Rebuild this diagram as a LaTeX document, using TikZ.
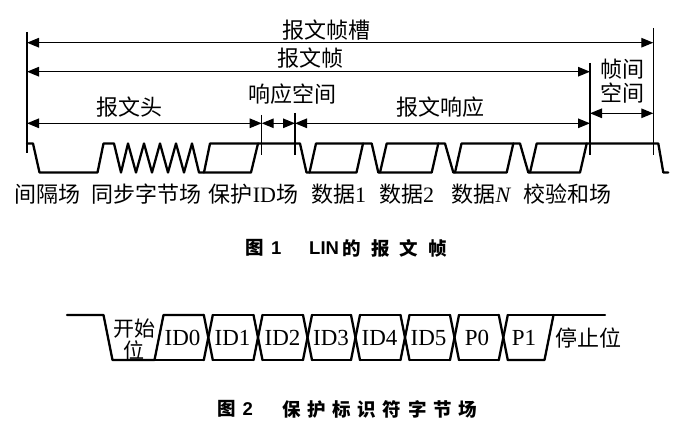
\documentclass[tikz,border=0pt]{standalone}
\usepackage{fontspec}
\setmainfont{Liberation Serif}
\newfontfamily\cjk{Noto Sans CJK SC}
\newfontfamily\capsans{Liberation Sans}
\usetikzlibrary{arrows.meta}
\tikzset{
  lbl/.style={inner sep=0pt, font=\fontsize{22}{24.5}\selectfont\cjk},
  idlbl/.style={inner sep=0pt, font=\fontsize{23}{25}\selectfont\rmfamily},
  caplbl/.style={inner sep=0pt, anchor=west, font=\fontsize{18.5}{20}\selectfont\bfseries\cjk},
  capnum/.style={inner sep=0pt, anchor=west, font=\fontsize{18.5}{20}\selectfont\bfseries\capsans},
  wave/.style={line width=2.3pt, line join=round, line cap=round},
  vline/.style={line width=1.3pt},
  dimarr/.style={line width=1.3pt, {Triangle[length=12pt,width=9.5pt]}-{Triangle[length=12pt,width=9.5pt]}}
}
\begin{document}
\begin{tikzpicture}[x=1pt,y=-1pt]
\fill[white] (0,0) rectangle (685,425);
\useasboundingbox (0,0) rectangle (685,425);

% ---------- Figure 1 : marker lines ----------
\coordinate (m0t) at (27,32);    \coordinate (m0b) at (27,153);
\coordinate (m1t) at (261.7,115); \coordinate (m1b) at (261.7,155);
\coordinate (m2t) at (295,113);  \coordinate (m2b) at (295,155);
\coordinate (m3t) at (590,63);   \coordinate (m3b) at (590,155);
\coordinate (m4t) at (653.3,28); \coordinate (m4b) at (653.3,155);
\foreach \i in {0,...,4} \draw[vline] (m\i t) -- (m\i b);

% arrow end points
\coordinate (sL) at (27,42.7);    \coordinate (sR) at (653.3,42.7);
\coordinate (fL) at (27,71.7);    \coordinate (fR) at (590,71.7);
\coordinate (hL) at (27,123.3);   \coordinate (hR) at (261.7,123.3);
\coordinate (rR) at (295,123.3);  \coordinate (pR) at (590,123.3);
\coordinate (iL) at (590,113.3);  \coordinate (iR) at (653.3,113.3);

\draw[dimarr] (sL) -- (sR);
\draw[dimarr] (fL) -- (fR);
\draw[dimarr] (hL) -- (hR);
\draw[dimarr] (hR) -- (rR);
\draw[dimarr] (rR) -- (pR);
\draw[dimarr] (iL) -- (iR);

% labels above
\node[lbl] (tslot) at (326.5,30.5) {报文帧槽};
\node[lbl] (tframe) at (310,58.5) {报文帧};
\node[lbl] (trs) at (292.5,94.5) {响应空间};
\node[lbl] (thdr) at (129.5,107.5) {报文头};
\node[lbl] (tresp) at (440,107) {报文响应};
\node[lbl, align=center] (tifs) at (622,81) {帧间\\空间};

% waveform
\draw[wave] (27,143.5) -- (33,143.5) -- (39.5,172.5) -- (97.5,172.5) -- (103.5,143.5) -- (114,143.5)
  -- (121,172.5) -- (128,143.5) -- (136,172.5) -- (144,143.5) -- (152,172.5) -- (160,143.5)
  -- (168,172.5) -- (176,143.5) -- (184,172.5) -- (192,143.5) -- (199,172.5) -- (251,172.5) -- (258,143.5);
\draw[wave] (204,172.5) -- (210,143.5) -- (300,143.5) -- (306.5,172.5) -- (356.5,172.5) -- (363,143.5);
\draw[wave] (309.5,172.5) -- (316,143.5) -- (371.7,143.5) -- (378.3,172.5) -- (431.7,172.5) -- (438.3,143.5);
\draw[wave] (380,172.5) -- (386.7,143.5) -- (445,143.5) -- (453.3,172.5) -- (506.7,172.5) -- (513.3,143.5);
\draw[wave] (455,172.5) -- (461.5,143.5) -- (520,143.5) -- (528.3,172.5) -- (580,172.5) -- (586.7,143.5);
\draw[wave] (530,172.5) -- (536.7,143.5) -- (658.3,143.5) -- (663.3,172.5) -- (668.3,172.5);

% labels below
\node[lbl] (b1) at (47.5,194) {间隔场};
\node[lbl] (b2) at (146,194) {同步字节场};
\node[lbl] (b3) at (253.5,194) {保护{\rmfamily ID}场};
\node[lbl] (b4) at (338.5,194) {数据{\rmfamily 1}};
\node[lbl] (b5) at (406.5,194) {数据{\rmfamily 2}};
\node[lbl] (b6) at (481,194) {数据{\rmfamily\itshape N}};
\node[lbl] (b7) at (567.5,194) {校验和场};

% caption 1
\node[caplbl] (c1a) at (245.5,248.3) {图};
\node[capnum] (c1b) at (271,248.3) {1};
\node[capnum] (c1c) at (309,248.3) {LIN};
\node[caplbl] (c1d) at (342,248.3) {的\hspace{10.4pt}报\hspace{10.4pt}文\hspace{10.4pt}帧};

% ---------- Figure 2 ----------
\def\T{315}\def\B{360}\def\h{4.5}
\draw[wave] (67,\T) -- (103.5,\T) -- (112.5,\B) -- (154.5,\B) -- (163.5,\T) -- (203.8,\T);
\foreach \a/\b in {208.3/258, 258/307.5, 307.5/355.5, 355.5/405, 405/454.5, 454.5/503.3}{
  \draw[wave] (\a+\h,\T) -- (\b-\h,\T);
  \draw[wave] (\a+\h,\B) -- (\b-\h,\B);
}
\draw[wave] (154.5,\B) -- (203.8,\B);
\foreach \c in {208.3, 258, 307.5, 355.5, 405, 454.5, 503.3}{
  \draw[wave] (\c-\h,\T) -- (\c+\h,\B);
  \draw[wave] (\c-\h,\B) -- (\c+\h,\T);
}
\draw[wave] (503.3+\h,\T) -- (605,\T);
\draw[wave] (503.3+\h,\B) -- (544.5,\B) -- (553.5,\T);

\node[lbl, align=center, font=\fontsize{21}{22}\selectfont\cjk] (start) at (134,339) {开始\\位};
\node[idlbl] (id0) at (182.5,338) {ID0};
\node[idlbl] (id1) at (232.5,338) {ID1};
\node[idlbl] (id2) at (282.5,338) {ID2};
\node[idlbl] (id3) at (331,338) {ID3};
\node[idlbl] (id4) at (379.5,338) {ID4};
\node[idlbl] (id5) at (428.5,338) {ID5};
\node[idlbl] (p0) at (477,338) {P0};
\node[idlbl] (p1) at (524,338) {P1};
\node[lbl] (stop) at (588.5,338) {停止位};

% caption 2
\node[caplbl] (c2a) at (217,409) {图};
\node[capnum] (c2b) at (242.5,409) {2};
\node[caplbl] (c2c) at (282,409) {保\hspace{6.7pt}护\hspace{6.7pt}标\hspace{6.7pt}识\hspace{6.7pt}符\hspace{6.7pt}字\hspace{6.7pt}节\hspace{6.7pt}场};
\end{tikzpicture}
\end{document}
